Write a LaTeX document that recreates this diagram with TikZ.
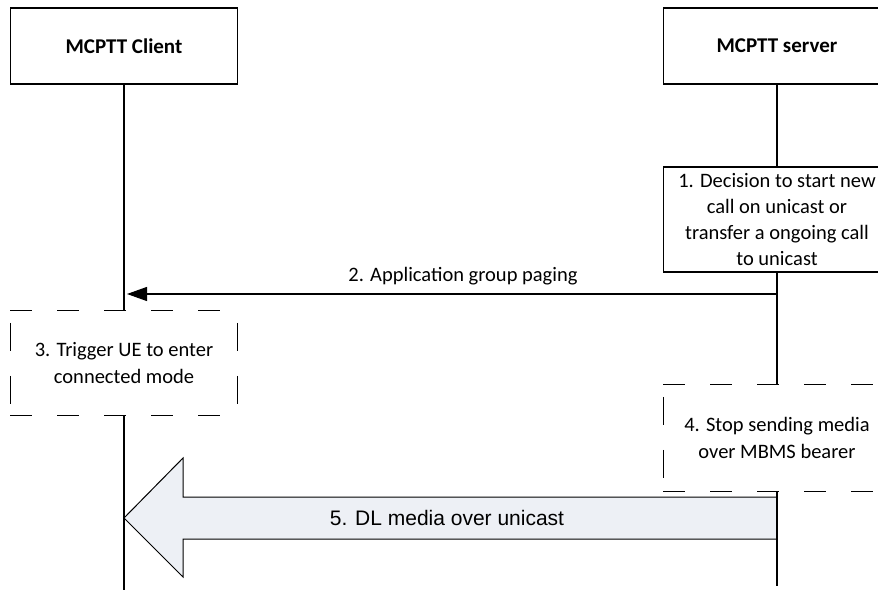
\documentclass[tikz,border=0pt]{standalone}
\usepackage{fontspec}
\setmainfont{Carlito}
\newfontfamily\arialfont{Liberation Sans}
\usetikzlibrary{arrows.meta}
\definecolor{arrowfill}{HTML}{EDF0F5}
\begin{document}
\begin{tikzpicture}[x=1pt,y=-1pt,
  lw/.style={line width=1.2pt},
  actor/.style={draw, lw, fill=white, minimum width=227pt, minimum height=76pt,
    font=\fontsize{21}{26}\selectfont\bfseries, inner sep=0pt},
  solidbox/.style={draw, lw, fill=white, minimum width=227pt, minimum height=105pt,
    align=center, font=\fontsize{20.5}{26}\selectfont, inner sep=0pt},
  dashbox/.style={minimum width=227pt, minimum height=105pt,
    align=center, font=\fontsize{20.5}{27}\selectfont, inner sep=0pt},
  hdash/.style={lw, dash pattern=on 22pt off 25pt},
  vdash/.style={lw, dash pattern=on 28pt off 25pt, dash phase=41pt},
  lifeline/.style={lw},
  msg/.style={lw, -{Triangle[length=20pt,width=14pt]}, shorten >=3pt},
  lbl/.style={font=\fontsize{20.5}{26}\selectfont, inner sep=0pt},
  bigarrow/.style={line width=1pt, fill=arrowfill, line join=miter},
  biglbl/.style={font=\arialfont\fontsize{21}{25}\selectfont, inner sep=0pt}
]
\useasboundingbox (0,0) rectangle (878,591);

% actors
\node[actor] (client) at (124,46) {MCPTT Client};
\node[actor] (server) at (777,46) {MCPTT server};

% step boxes
\node[solidbox] (s1) at (777,219.5) {1. Decision to start new\\call on unicast or\\transfer a ongoing call\\to unicast};
\node[dashbox, minimum height=104pt] (s3) at (124,363) {3. Trigger UE to enter\\connected mode};
\node[dashbox, minimum height=106pt] (s4) at (777,438) {4. Stop sending media\\over MBMS bearer};

% dashed borders
\foreach \b in {s3,s4} {
  \draw[hdash] (\b.north west) -- (\b.north east);
  \draw[hdash] (\b.south west) -- (\b.south east);
  \draw[vdash] (\b.north west) -- (\b.south west);
  \draw[vdash] (\b.north east) -- (\b.south east);
}

% coordinates
\coordinate (cend) at (124,590);
\coordinate (send) at (777,586);
\coordinate (m2s) at (777,294);
\coordinate (m2c) at (124,294);
\coordinate (tip) at (124,518);
\coordinate (ht) at (183,458);
\coordinate (st) at (183,497);
\coordinate (rt) at (777,497);
\coordinate (rb) at (777,539);
\coordinate (sb) at (183,539);
\coordinate (hb) at (183,577);

% big arrow 5
\draw[bigarrow] (tip) -- (ht) -- (st) -- (rt) -- (rb) -- (sb) -- (hb) -- cycle;
\node[biglbl] (l5) at (447,518) {5. DL media over unicast};

% lifelines
\draw[lifeline] (client.south) -- (client.south |- s3.north);
\draw[lifeline] (s3.south) -- (cend);
\draw[lifeline] (server.south) -- (s1.north);
\draw[lifeline] (s1.south) -- (s4.north);
\draw[lifeline] (s4.south) -- (send);

% message 2
\draw[msg] (m2s) -- (m2c);
\node[lbl] (l2) at (463,276) {2. Application group paging};
\end{tikzpicture}
\end{document}
